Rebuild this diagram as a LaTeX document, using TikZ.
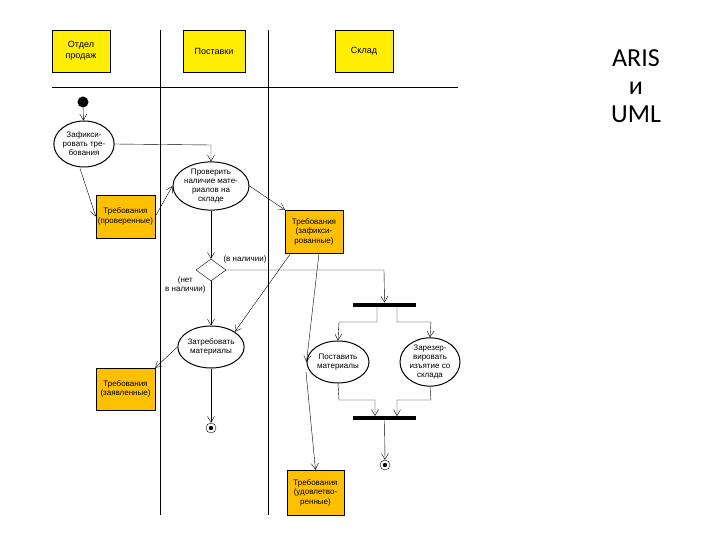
\documentclass[tikz,border=0pt]{standalone}
\usepackage{fontspec}
\setmainfont{Liberation Sans}
\newfontfamily\bigf{Carlito}
\usetikzlibrary{shapes.geometric,arrows.meta}
\definecolor{hdr}{HTML}{FFEE00}
\definecolor{obj}{HTML}{FFC000}
\tikzset{x=1pt,y=-1pt,line width=0.8pt,
 act/.style={draw,ellipse,line width=1pt,fill=white,inner sep=0pt,font=\fontsize{8}{9}\selectfont,align=center},
 objbox/.style={draw,fill=obj,font=\fontsize{8}{9.5}\selectfont,align=center,inner sep=0pt},
 hbox/.style={draw,fill=hdr,font=\fontsize{9}{11}\selectfont,align=center,inner sep=0pt,minimum width=58pt,minimum height=42pt},
 arr/.style={-{Straight Barb[length=6pt,width=7pt]}},
 bar/.style={fill=black,minimum width=63pt,minimum height=4.5pt,inner sep=0pt},
 lbl/.style={font=\fontsize{8}{9.5}\selectfont,align=center}}
\begin{document}
\begin{tikzpicture}
\useasboundingbox (0,0) rectangle (720,540);
\fill[white] (0,0) rectangle (720,540);
% lanes
\node[hbox] (h1) at (81,51) {Отдел\\продаж};
\node[hbox,minimum width=62pt] (h2) at (214,51) {Поставки};
\node[hbox] (h3) at (364,51) {Склад};
\coordinate (v1t) at (160,30); \coordinate (v1b) at (160,515);
\coordinate (v2t) at (268,30); \coordinate (v2b) at (268,515);
\coordinate (hl) at (52,87); \coordinate (hr) at (458,87);
\draw (v1t)--(v1b) (v2t)--(v2b) (hl)--(hr);
% nodes
\node[fill=black,circle,minimum size=11pt,inner sep=0pt] (start) at (83,102) {};
\node[act,minimum width=58pt,minimum height=46pt] (fix) at (84,144) {Зафикси-\\ровать тре-\\бования};
\node[act,minimum width=60pt,minimum height=44pt] (chk) at (211,186) {Проверить\\наличие мате-\\риалов на\\складе};
\node[objbox,minimum width=59pt,minimum height=43pt] (o1) at (125.5,216.5) {Требования\\(проверенные)};
\node[objbox,minimum width=58pt,minimum height=43pt] (o2) at (314,231.5) {Требования\\(зафикси-\\рованные)};
\node[draw,diamond,aspect=1.4,minimum width=30pt,minimum height=22pt,inner sep=0pt] (dia) at (211,270) {};
\node[lbl,anchor=west] (lb1) at (220,259) {(в наличии)};
\node[lbl,anchor=east] (lb2) at (209,285) {(нет\\в наличии)};
\node[act,minimum width=58pt,minimum height=42pt] (req) at (211,347) {Затребовать\\материалы};
\node[objbox,minimum width=59pt,minimum height=42pt] (o3) at (125.5,389) {Требования\\(заявленные)};
\node[bar] (fork) at (384.5,305) {};
\node[act,minimum width=62pt,minimum height=42pt] (sup) at (338,362) {Поставить\\материалы};
\node[act,minimum width=60pt,minimum height=46pt] (res) at (430,362) {Зарезер-\\вировать\\изъятие со\\склада};
\node[bar] (join) at (384.5,418) {};
\node[objbox,minimum width=57pt,minimum height=45pt] (o4) at (315.5,492.5) {Требования\\(удовлетво-\\ренные)};
\node[draw,circle,minimum size=10pt,inner sep=0pt,fill=white] (e1) at (211,428) {};
\fill (e1.center) circle (2.2pt);
\node[draw,circle,minimum size=10pt,inner sep=0pt,fill=white] (e2) at (385,465) {};
\fill (e2.center) circle (2.2pt);
% connectors
\draw[arr] (start)--(fix);
\draw[arr] (fix.east) -- (211,145) -- (chk.north);
\draw[arr] (fix.south) ++(-4,1) -- (o1.west);
\draw[arr] (o1.east) -- (chk.west);
\draw[arr] (chk.east) -- (o2.north west);
\draw[arr] (chk.south) -- (dia.north);
\draw[arr] (dia.east) -- (384,270) -- (fork.north);
\draw[arr] (dia.south) -- (req.north);
\draw[arr] (o2.south west) ++(6,0) -- (req.north east);
\draw[arr] (o2.south) ++(5,0) -- (sup.west);
\draw[arr] (req.west) -- (o3.north east);
\draw[arr] (req.south) -- (e1.north);
\draw[arr] (377,307) -- (377,322) -- (339,322) -- (sup.north);
\draw[arr] (397,307) -- (397,322) -- (431,322) -- (res.north);
\draw[arr] (sup.south) -- (339,400) -- (375,400) -- (375,416);
\draw[arr] (res.south) -- (431,400) -- (397,400) -- (397,416);
\draw[arr] (join.south) -- (e2.north);
\draw[arr] (306,372) -- (o4.north);
% title
\node[font=\bigf\fontsize{26}{28}\selectfont,align=center] (t) at (636,86) {ARIS\\и\\UML};
\end{tikzpicture}
\end{document}
